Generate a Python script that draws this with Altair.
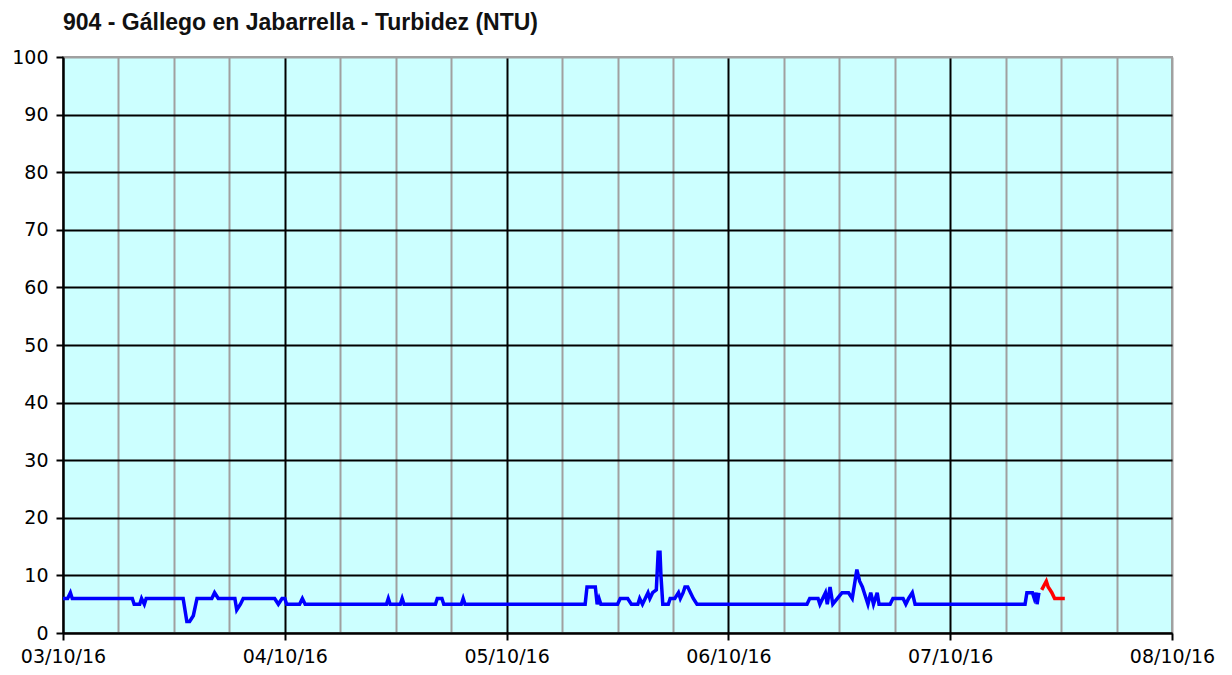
import altair as alt
import pandas as pd

# hours since 03/10/16 00:00 and turbidity (NTU)
blue_hours = [0, 0.5, 0.8, 1.0, 7.5, 7.7, 8.3, 8.5, 8.8, 9.0, 13.0, 13.4, 13.7, 14.1, 14.5,
              16.1, 16.4, 16.8, 18.6, 18.8, 19.2, 19.5, 22.9, 23.3, 23.7, 24.0, 24.2, 25.6,
              25.9, 26.2, 35.0, 35.2, 35.4, 36.5, 36.7, 36.9, 40.3, 40.5, 41.0, 41.2, 43.1,
              43.3, 43.5, 56.5, 56.7, 57.6, 57.8, 58.0, 58.2, 60.0, 60.3, 61.1, 61.5, 62.2,
              62.4, 62.7, 63.0, 63.3, 63.5, 63.8, 64.2, 64.4, 64.6, 64.7, 64.9, 65.5, 65.7,
              66.2, 66.6, 66.8, 67.1, 67.3, 67.6, 67.9, 68.2, 68.6, 80.5, 80.8, 81.7, 81.9,
              82.2, 82.5, 82.7, 83.0, 83.3, 83.8, 84.3, 85.0, 85.4, 85.7, 85.9, 86.2, 86.5,
              86.7, 86.9, 87.1, 87.4, 87.7, 88.1, 88.3, 89.5, 89.8, 90.9, 91.2, 91.5, 91.9,
              92.2, 104.1, 104.3, 104.9, 105.1, 105.3, 105.4, 105.6]
blue_values = [6, 6, 7, 6, 6, 5, 5, 6, 5, 6, 6, 2, 2, 3, 6,
               6, 7, 6, 6, 4, 5, 6, 6, 5, 6, 6, 5, 5,
               6, 5, 5, 6, 5, 5, 6, 5, 5, 6, 6, 5, 5,
               6, 5, 5, 8, 8, 5, 6, 5, 5, 6, 6, 5, 5,
               6, 5, 6, 7, 6, 7, 7.5, 14, 14, 10, 5, 5, 6,
               6, 7, 6, 7, 8, 8, 7, 6, 5, 5, 6, 6, 5,
               6, 7, 5, 8, 5, 6, 7, 7, 6, 9, 11, 9, 8,
               7, 6, 5, 7, 5, 7, 5, 5, 6, 6, 5, 6, 7,
               5, 5, 7, 7, 6, 7, 5, 7]
red_hours = [105.9, 106.4, 106.6, 106.8, 107.0, 107.3, 108.4]
red_values = [7.5, 9, 8, 7.5, 7, 6, 6]

title_text = "904 - Gállego en Jabarrella - Turbidez (NTU)"
y_ticks = list(range(0, 101, 10))

start = pd.Timestamp("2016-10-03 00:00:00")


def frame(hours, values, name):
    t = [(start + pd.Timedelta(hours=h)).strftime("%Y-%m-%dT%H:%M:%S") for h in hours]
    return pd.DataFrame({"t": t, "v": values, "s": name})


df = pd.concat([frame(blue_hours, blue_values, "a"), frame(red_hours, red_values, "b")])

x_values = [alt.DateTime(year=2016, month=10, date=3 + (i // 4), hours=(i % 4) * 6) for i in range(21)]

major = "hours(datum.value) == 0 && datum.value < time(datetime(2016, 9, 8))"

x_axis = alt.Axis(
    values=x_values,
    labelExpr="hours(datum.value) == 0 ? timeFormat(datum.value, '%d/%m/%y') : ''",
    labelOverlap=False,
    labelFont="DejaVu Sans",
    labelFontSize=19,
    labelColor="black",
    labelPadding=7,
    labelFlush=False,
    tickSize=7,
    tickWidth=2,
    tickColor="black",
    tickOpacity={"condition": {"test": "hours(datum.value) == 0", "value": 1}, "value": 0},
    grid=True,
    gridColor={"condition": {"test": major, "value": "black"}, "value": "#A0A0A0"},
    gridWidth=2,
    gridOpacity=1,
    domainColor="black",
    domainWidth=2,
    title=None,
)

y_axis = alt.Axis(
    values=y_ticks,
    labelFont="DejaVu Sans",
    labelFontSize=19,
    labelColor="black",
    labelPadding=8,
    tickSize=7,
    tickWidth=2,
    tickColor="black",
    grid=True,
    gridColor={"condition": {"test": "datum.value >= 100", "value": "#A0A0A0"}, "value": "black"},
    gridWidth=2,
    gridOpacity=1,
    domainColor="black",
    domainWidth=2,
    title=None,
)

chart = (
    alt.Chart(df)
    .mark_line(strokeWidth=3.5, interpolate="linear")
    .encode(
        x=alt.X(
            "t:T",
            scale=alt.Scale(
                domain=[alt.DateTime(year=2016, month=10, date=3), alt.DateTime(year=2016, month=10, date=8)],
                nice=False,
            ),
            axis=x_axis,
        ),
        y=alt.Y("v:Q", scale=alt.Scale(domain=[0, 100], nice=False), axis=y_axis),
        color=alt.Color("s:N", scale=alt.Scale(domain=["a", "b"], range=["#0000FF", "#FF0000"]), legend=None),
        detail="s:N",
    )
    .properties(
        width=1109,
        height=576,
        autosize=alt.AutoSizeParams(type="none"),
        padding={"left": 55, "top": 49, "right": 52, "bottom": 34},
        title=alt.Title(
            title_text,
            anchor="start",
            frame="group",
            font="Liberation Sans",
            fontSize=23,
            fontWeight="bold",
            color="#111111",
            offset=13,
        ),
    )
    .configure(background="white")
    .configure_view(fill="#CCFFFF", stroke="#A0A0A0", strokeWidth=2)
)

chart.save("out.html", embed_options={"renderer": "svg", "actions": False})
